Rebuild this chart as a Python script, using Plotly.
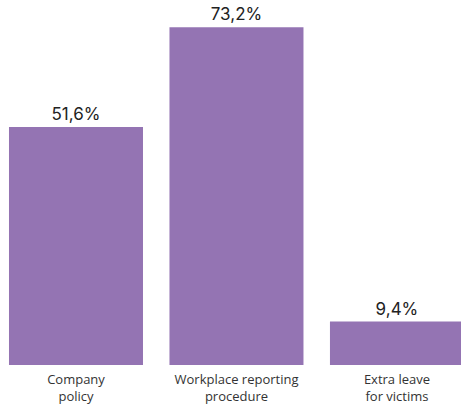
import plotly.graph_objects as go

categories = ["Company<br>policy", "Workplace reporting<br>procedure", "Extra leave<br>for victims"]
values = [51.6, 73.2, 9.4]
labels = ["51,6%", "73,2%", "9,4%"]

bar_color = "#9474b3"
font_family = "Inter, Open Sans, sans-serif"
tick_family = "Open Sans, sans-serif"

fig = go.Figure(
    go.Bar(
        x=[0, 1, 2],
        y=values,
        text=labels,
        textposition="outside",
        textfont=dict(size=17, color="#222222", family=font_family),
        marker=dict(color=bar_color, line=dict(width=0)),
        cliponaxis=False,
        width=0.835,
    )
)

fig.update_layout(
    width=461,
    height=405,
    margin=dict(l=0, r=0, t=0, b=40),
    paper_bgcolor="white",
    plot_bgcolor="white",
    showlegend=False,
    font=dict(family=font_family, color="#333333", size=12),
    xaxis=dict(
        range=[-0.4735, 2.399],
        tickmode="array",
        tickvals=[0, 1, 2],
        ticktext=categories,
        showgrid=False,
        zeroline=False,
        showline=False,
        ticks="",
        ticklabelstandoff=5,
        tickfont=dict(size=13, color="#333333", family=tick_family),
    ),
    yaxis=dict(
        range=[0, 79.1],
        visible=False,
        showgrid=False,
        zeroline=False,
    ),
)

fig.write_html("out.html")
